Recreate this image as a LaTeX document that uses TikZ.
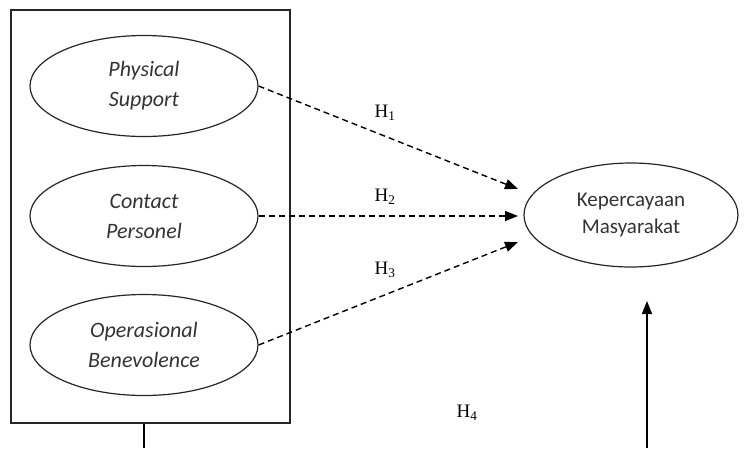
\documentclass[tikz,border=0pt]{standalone}
\usepackage{fontspec}
\setmainfont{Carlito}
\newfontfamily\hfont{Liberation Serif}
\usetikzlibrary{shapes.geometric,arrows.meta}
\begin{document}
\begin{tikzpicture}[x=1pt,y=-1pt,
  lat/.style={draw=black!85,line width=1.2pt,ellipse,minimum width=228pt,minimum height=101pt,inner sep=0pt,align=center,text=black!80,font=\fontsize{22}{30}\selectfont\itshape},
  dep/.style={draw=black!85,line width=1.2pt,ellipse,minimum width=214pt,minimum height=104pt,inner sep=0pt,align=center,text=black!80,font=\fontsize{21}{27}\selectfont},
  hyp/.style={dashed,dash pattern=on 6pt off 4pt,line width=1.4pt,-{Triangle[length=13pt,width=10pt]}},
  solidarr/.style={line width=1.3pt,-{Triangle[length=13pt,width=10pt]}},
  hlab/.style={font=\hfont\fontsize{19}{21}\selectfont,inner sep=0pt}]
\useasboundingbox (0,0) rectangle (745,448);
\node[draw=black!85,line width=1.2pt,minimum width=279pt,minimum height=413pt,inner sep=0pt] (box) at (150.5,216.5) {};
\node[lat] (ps) at (144,86) {Physical\\Support};
\node[lat] (cp) at (144,216) {Contact\\Personel};
\node[lat] (ob) at (144,345) {Operasional\\Benevolence};
\node[dep] (km) at (631,215) {Kepercayaan\\Masyarakat};
\coordinate (t1) at (518,189);
\coordinate (t2) at (518,216);
\coordinate (t3) at (518,242);
\coordinate (b1) at (144,448);
\coordinate (b2) at (647,448);
\coordinate (t4) at (647,301);
\draw[hyp] (ps.east) -- (t1);
\draw[hyp] (cp.east) -- (t2);
\draw[hyp] (ob.east) -- (t3);
\draw[line width=1.3pt] (box.south -| b1) -- (b1);
\draw[solidarr] (b2) -- (t4);
\node[hlab] (h1) at (385,113) {H\textsubscript{1}};
\node[hlab] (h2) at (385,197) {H\textsubscript{2}};
\node[hlab] (h3) at (385,270) {H\textsubscript{3}};
\node[hlab] (h4) at (467,413) {H\textsubscript{4}};
\end{tikzpicture}
\end{document}
